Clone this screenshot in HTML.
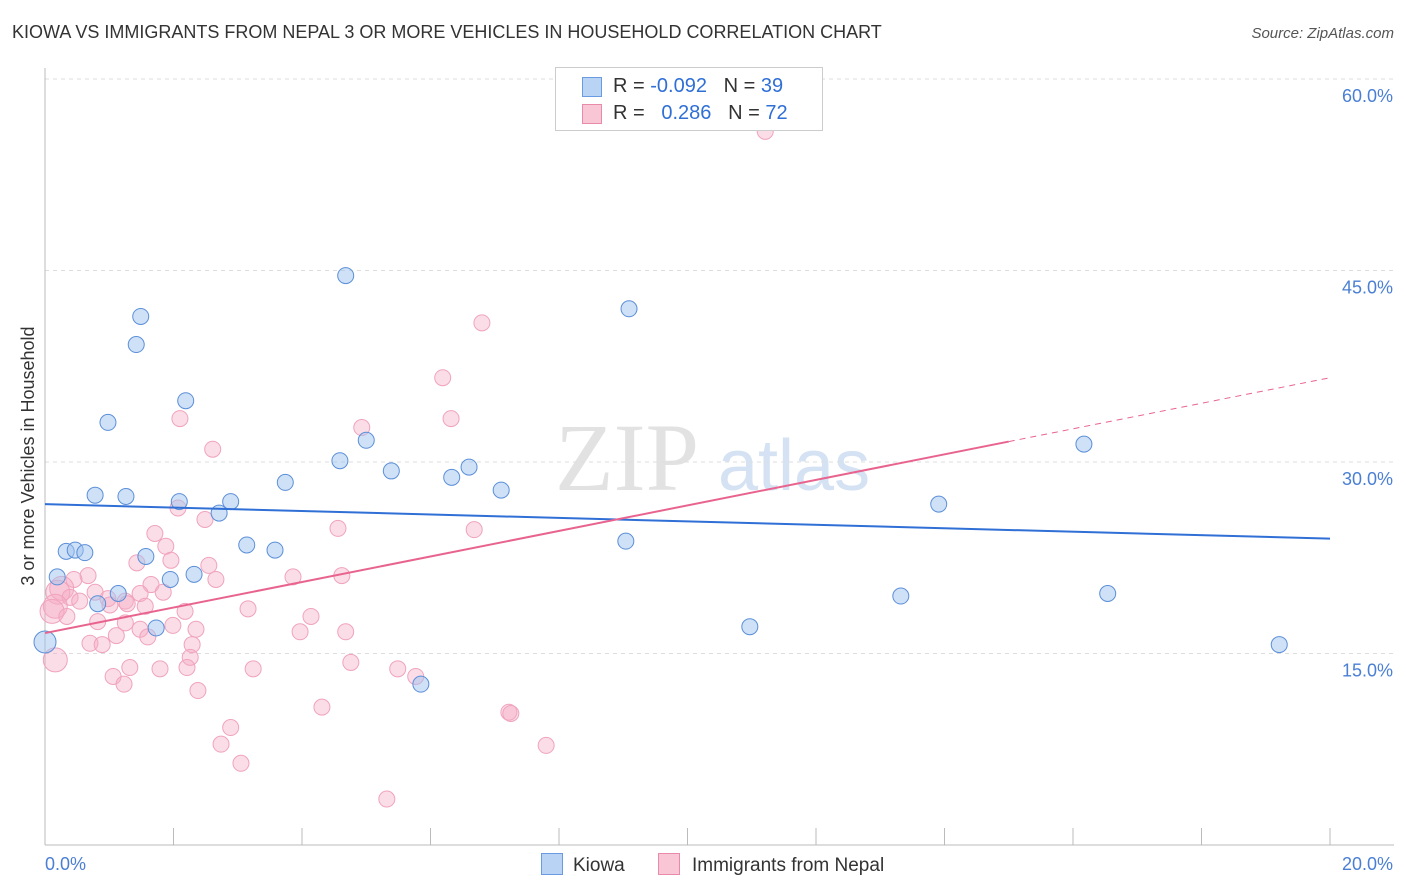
<!DOCTYPE html>
<html><head><meta charset="utf-8"><style>
body{margin:0;background:#fff;font-family:"Liberation Sans",sans-serif;}
#wrap{position:relative;width:1406px;height:892px;overflow:hidden;}
.t{position:absolute;white-space:nowrap;}
</style></head><body>
<div id="wrap">
<div class="t" style="left:12px;top:22px;font-size:18px;color:#333;">KIOWA VS IMMIGRANTS FROM NEPAL 3 OR MORE VEHICLES IN HOUSEHOLD CORRELATION CHART</div>
<div class="t" style="right:12px;top:25px;font-size:15px;color:#555;font-style:italic;">Source: ZipAtlas.com</div>
<svg id="svg" width="1406" height="892" style="position:absolute;left:0;top:0"></svg>
</div>
<script>
const blueX=[1.49,1.42,4.68,9.09,0.98,2.19,5.00,4.59,5.39,6.60,6.33,7.10,3.74,0.78,1.26,2.09,2.89,2.71,0.33,0.47,0.62,1.57,3.14,3.58,0.19,1.95,2.32,1.14,0.82,1.73,0,5.85,9.04,13.91,16.17,13.32,10.97,16.54,19.21];
const blueY=[41.4,39.2,44.6,42.0,33.1,34.8,31.7,30.1,29.3,29.6,28.8,27.8,28.4,27.4,27.3,26.9,26.9,26.0,23.0,23.1,22.9,22.6,23.5,23.1,21.0,20.8,21.2,19.7,18.9,17.0,15.9,12.6,23.8,26.7,31.4,19.5,17.1,19.7,15.7];
const pinkX=[11.21,6.80,6.19,6.32,2.10,4.93,2.61,2.07,2.49,4.56,6.68,1.71,1.88,1.43,1.96,2.55,0.67,0.45,2.66,3.86,4.62,1.65,0.26,0.20,0.39,0.78,0.98,1.25,1.84,1.48,1.28,0.54,1.56,1.01,0.16,0.11,0.34,0.82,1.25,1.48,1.99,2.35,3.16,4.14,3.97,4.68,1.11,0.70,0.89,1.60,2.29,0.16,2.26,2.21,1.32,1.79,1.06,1.23,2.38,3.24,4.76,5.49,5.77,4.31,7.22,7.25,2.89,2.74,7.80,3.05,5.32,2.18];
const pinkY=[55.9,40.9,36.6,33.4,33.4,32.7,31.0,26.4,25.5,24.8,24.7,24.4,23.4,22.1,22.3,21.9,21.1,20.8,20.8,21.0,21.1,20.4,20.1,19.8,19.4,19.8,19.3,19.1,19.8,19.7,18.9,19.1,18.7,18.8,18.7,18.3,17.9,17.5,17.4,16.9,17.2,16.9,18.5,17.9,16.7,16.7,16.4,15.8,15.7,16.3,15.7,14.5,14.7,13.9,13.9,13.8,13.2,12.6,12.1,13.8,14.3,13.8,13.2,10.8,10.4,10.3,9.2,7.9,7.8,6.4,3.6,18.3];
const yTicks=[15,30,45,60];
const yTickLabels=["15.0%","30.0%","45.0%","60.0%"];
const blueTrend=[26.7,24.0];
const pinkTrend=[16.6,36.6];
const pinkSolidEnd=15.0;

const X0=45,X1=1330,Y0=845;
const sx=v=>X0+v/20*(X1-X0);
const sy=v=>Y0-v/15*191.5;
const svg=document.getElementById('svg');
const NS='http://www.w3.org/2000/svg';
function mk(tag,attrs){const e=document.createElementNS(NS,tag);for(const k in attrs)e.setAttribute(k,attrs[k]);svg.appendChild(e);return e;}

// watermark
let w=mk('text',{x:555,y:490,'font-size':96,fill:'#e2e2e2','font-family':'Liberation Serif,serif'});w.textContent='ZIP';


let w2=mk('text',{x:718,y:490,'font-size':72,fill:'#d4e2f4','font-family':'Liberation Sans,sans-serif'});w2.textContent='atlas';



// gridlines + labels
yTicks.forEach((t,i)=>{
 const g=mk('line',{x1:X0,x2:1394,y1:sy(t),y2:sy(t),stroke:'#ddd','stroke-dasharray':'4,4'});
 
 
 const l=mk('text',{x:1393,y:sy(t)+23,'text-anchor':'end','font-size':18,fill:'#4a7fd4'});l.textContent=yTickLabels[i];
 
 
});
// axes
let ax=mk('line',{x1:X0,x2:1394,y1:Y0,y2:Y0,stroke:'#bbb'});


let ay=mk('line',{x1:X0,x2:X0,y1:68,y2:Y0,stroke:'#bbb'});


for(let i=0;i<=10;i++){const tk=mk('line',{x1:sx(i*2),x2:sx(i*2),y1:828,y2:Y0,stroke:'#bbb'});
 
 }
let xl0=mk('text',{x:45,y:870,'font-size':18,fill:'#4a7fd4'});xl0.textContent='0.0%';


let xl1=mk('text',{x:1393,y:870,'text-anchor':'end','font-size':18,fill:'#4a7fd4'});xl1.textContent='20.0%';


let yt=mk('text',{x:34,y:456,'font-size':18,fill:'#333',transform:'rotate(-90 34 456)','text-anchor':'middle'});yt.textContent='3 or more Vehicles in Household';



// points
pinkX.forEach((x,i)=>{const r=(x<0.3)?12:8;const c=mk('circle',{cx:sx(x),cy:sy(pinkY[i]),r:r,fill:'rgba(246,170,196,0.4)',stroke:'#f0a3bd','stroke-width':1});
 
 });
blueX.forEach((x,i)=>{const r=(x<0.1)?11:8;const c=mk('circle',{cx:sx(x),cy:sy(blueY[i]),r:r,fill:'rgba(160,196,240,0.5)',stroke:'#5b8fd8','stroke-width':1});
 
 });

// trend lines
let bt=mk('line',{x1:sx(0),y1:sy(blueTrend[0]),x2:sx(20),y2:sy(blueTrend[1]),stroke:'#2f6fd6','stroke-width':2});


const pAt=x=>pinkTrend[0]+(pinkTrend[1]-pinkTrend[0])*x/20;
let pt=mk('line',{x1:sx(0),y1:sy(pAt(0)),x2:sx(pinkSolidEnd),y2:sy(pAt(pinkSolidEnd)),stroke:'#e8648f','stroke-width':2});


let pd=mk('line',{x1:sx(pinkSolidEnd),y1:sy(pAt(pinkSolidEnd)),x2:sx(20),y2:sy(pAt(20)),stroke:'#e8648f','stroke-width':1,'stroke-dasharray':'6,5'});


</script>
<div class="t" style="left:555px;top:67px;width:266px;height:62px;border:1px solid #ccc;background:#fff;font-size:20px;">
 <div style="position:absolute;left:26px;top:9px;width:18px;height:18px;background:#b9d3f5;border:1px solid #6a9ae0"></div>
 <div style="position:absolute;left:57px;top:7px;color:#333">R = <span style="color:#2f6fd6">-0.092</span>&nbsp;&nbsp;&nbsp;N = <span style="color:#2f6fd6">39</span></div>
 <div style="position:absolute;left:26px;top:36px;width:18px;height:18px;background:#f9c6d6;border:1px solid #ea8aab"></div>
 <div style="position:absolute;left:57px;top:34px;color:#333">R = &nbsp;&nbsp;<span style="color:#2f6fd6">0.286</span>&nbsp;&nbsp;&nbsp;N = <span style="color:#2f6fd6">72</span></div>
</div>
<div class="t" style="left:541px;top:853px;font-size:19px;color:#333;"><span style="display:inline-block;width:20px;height:20px;background:#b9d3f5;border:1px solid #6a9ae0;vertical-align:-4px;margin-right:10px"></span>Kiowa</div>
<div class="t" style="left:658px;top:853px;font-size:19px;color:#333;"><span style="display:inline-block;width:20px;height:20px;background:#f9c6d6;border:1px solid #ea8aab;vertical-align:-4px;margin-right:12px"></span>Immigrants from Nepal</div>
</body></html>
